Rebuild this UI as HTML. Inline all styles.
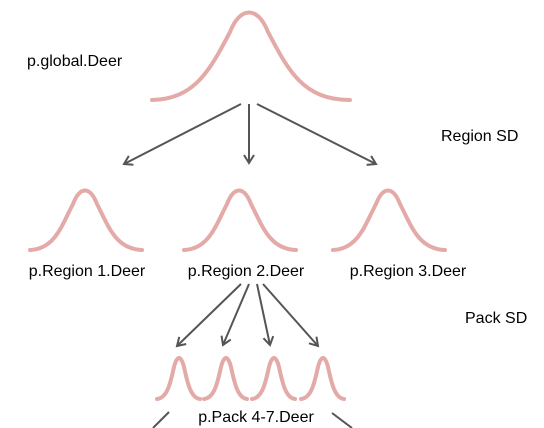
<!DOCTYPE html>
<html><head><style>
html,body{margin:0;padding:0;background:#fff;}
svg{display:block;}
text{font-family:"Liberation Sans",sans-serif;font-size:16px;fill:#000;}
</style></head><body>
<svg width="544" height="428" viewBox="0 0 544 428" xmlns="http://www.w3.org/2000/svg">
<defs>
<marker id="ah" markerWidth="12" markerHeight="12" refX="9" refY="6" orient="auto" markerUnits="userSpaceOnUse">
<path d="M1,1 L9,6 L1,11" fill="none" stroke="#555" stroke-width="2"/>
</marker>
</defs>
<g fill="none" stroke="#e3aaa8" stroke-width="4" stroke-linecap="round">
<path d="M152,100 C195,99 210,70 230,32 C240,6 258,6 268,32 C288,70 303,100 350,100"/>
<path d="M30,250 C55,249 62,225 73,204 C80,186 90,186 97,204 C108,225 115,249 142,250"/>
<path d="M184,250 C209,249 216,225 227,204 C234,186 244,186 251,204 C262,225 269,249 296,250"/>
<path d="M333,250 C358,249 365,225 376,204 C383,186 393,186 400,204 C411,225 418,249 445,250"/>
<path d="M157,399 C168,398 171,380 174,367 C177,355 181,355 184,367 C187,380 190,398 200,399"/>
<path d="M204,399 C215,398 218,380 221,367 C224,355 228,355 231,367 C234,380 237,398 247,399"/>
<path d="M252,399 C263,398 266,380 269,367 C272,355 276,355 279,367 C282,380 285,398 295,399"/>
<path d="M301,399 C312,398 315,380 318,367 C321,355 325,355 328,367 C331,380 334,398 344,399"/>
</g>
<g stroke="#555" stroke-width="2" fill="none">
<line x1="241" y1="104" x2="124" y2="164" marker-end="url(#ah)"/>
<line x1="249" y1="104" x2="249" y2="163" marker-end="url(#ah)"/>
<line x1="257" y1="104" x2="376" y2="164" marker-end="url(#ah)"/>
<line x1="241" y1="284" x2="177" y2="346" marker-end="url(#ah)"/>
<line x1="249" y1="284" x2="223" y2="345" marker-end="url(#ah)"/>
<line x1="257" y1="284" x2="270" y2="345" marker-end="url(#ah)"/>
<line x1="263" y1="284" x2="318" y2="346" marker-end="url(#ah)"/>
<line x1="169" y1="412" x2="153" y2="428"/>
<line x1="332" y1="413" x2="352" y2="428"/>
</g>
<text x="27" y="66">p.global.Deer</text>
<text x="441" y="141">Region SD</text>
<text x="465" y="323">Pack SD</text>
<text x="87" y="276" text-anchor="middle">p.Region 1.Deer</text>
<text x="246" y="276" text-anchor="middle">p.Region 2.Deer</text>
<text x="408" y="276" text-anchor="middle">p.Region 3.Deer</text>
<text x="256" y="422" text-anchor="middle">p.Pack 4-7.Deer</text>
</svg>
</body></html>
